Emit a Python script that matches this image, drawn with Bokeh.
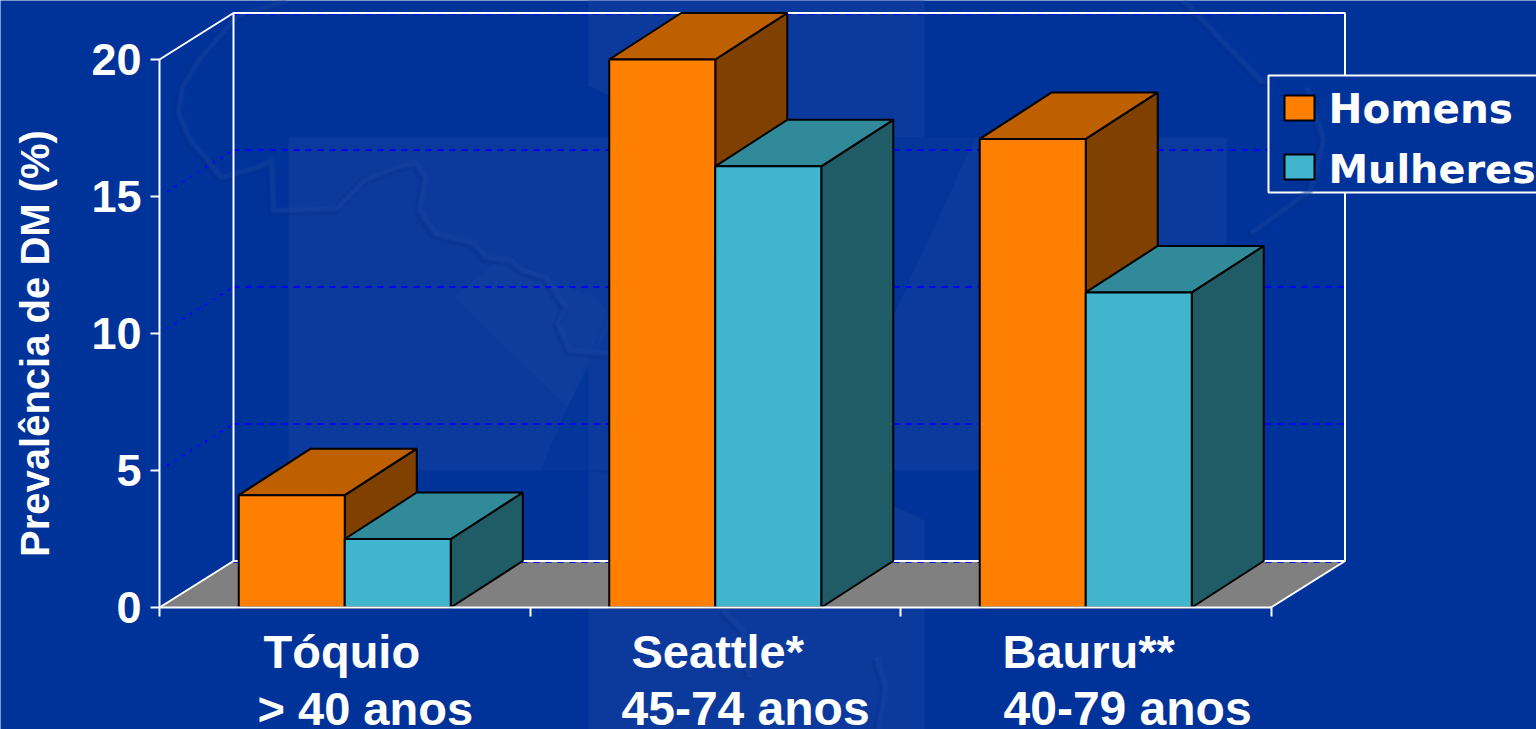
from math import pi

from bokeh.core.properties import value
from bokeh.embed import file_html
from bokeh.models import FixedTicker, LinearAxis, Range1d
from bokeh.plotting import figure
from bokeh.resources import INLINE

# Prevalence of diabetes (%) by city and sex
cities = ["Tóquio", "Seattle*", "Bauru**"]
age_groups = ["> 40 anos", "45-74 anos", "40-79 anos"]
series_names = ["Homens", "Mulheres"]
homens = [4.1, 20.0, 17.1]
mulheres = [2.5, 16.1, 11.5]
y_ticks = [0, 5, 10, 15, 20]
grid_levels = [5, 10, 15]

WIDTH, HEIGHT = 1536, 729
BG = "#003399"
PANEL = "#0C3A9C"
ORANGE, ORANGE_TOP, ORANGE_SIDE = "#FF8000", "#BF6000", "#804000"
CYAN, CYAN_TOP, CYAN_SIDE = "#40B5CD", "#308A99", "#205C66"

# Scale: one category is 370.5 px wide, one percentage point is 27.4 px tall,
# and the plot origin sits at (159, 607) on the page.
PX_X, PX_Y, X0, Y0 = 370.5, 27.4, 159, 607
DEPTH_X, DEPTH_Y = 74 / PX_X, 46.5 / PX_Y
BAR_DX, BAR_DY = 72 / PX_X, 46.5 / PX_Y
BAR_W = 106 / PX_X
N = len(cities)

p = figure(
    width=WIDTH, height=HEIGHT, output_backend="svg", toolbar_location=None,
    x_range=Range1d(-X0 / PX_X, (WIDTH - X0) / PX_X),
    y_range=Range1d((Y0 - HEIGHT) / PX_Y, Y0 / PX_Y),
    x_axis_location=None, y_axis_location=None,
    min_border=0, background_fill_color=BG, border_fill_color=BG,
    outline_line_color=None,
)
p.grid.visible = False
p.extra_x_ranges["page"] = Range1d(0, WIDTH)
p.extra_y_ranges["page"] = Range1d(HEIGHT, 0)
page = dict(x_range_name="page", y_range_name="page")

# Slide backdrop: pale panels and the faint embossed map outline
p.patches(
    xs=[[288, 1226, 1226, 288], [588, 924, 924, 700, 588], [588, 893, 924, 924, 588]],
    ys=[[137, 137, 470, 470], [0, 0, 137, 137, 85], [470, 505, 520, 729, 729]],
    fill_color=PANEL, line_color=None, **page,
)
p.patches(
    xs=[[540, 612, 588, 588], [893, 975, 893]],
    ys=[[470, 300, 370, 470], [137, 137, 315]],
    fill_color=BG, fill_alpha=0.6, line_color=None, **page,
)
p.patches(
    xs=[[453, 500, 600, 612, 567]], ys=[[297, 258, 300, 320, 407]],
    fill_color="#123F9F", fill_alpha=0.5, line_color=None, **page,
)

outline_xs = [
    [287, 237, 198, 182, 178, 190, 205, 221, 257, 271, 273, 336, 364, 395, 415, 425, 419, 435,
     474, 486, 510, 522, 545, 565, 557, 569, 609],
    [1183, 1260, 1307],
    [722, 742, 749],
    [876, 885, 878],
]
outline_ys = [
    [0, 15, 60, 87, 113, 140, 157, 177, 167, 160, 210, 208, 180, 167, 163, 177, 210, 233,
     243, 257, 260, 270, 277, 307, 323, 350, 353],
    [0, 80, 87],
    [610, 630, 677],
    [657, 688, 729],
]
legend_arc_xs = [[1307, 1323, 1310, 1250]]
legend_arc_ys = [[87, 140, 190, 233]]


def draw_outline(xs, ys):
    # Soft two-tone stroke: a dark shadow to the lower left, a pale ridge on top
    shifted_xs = [[x - 2 for x in s] for s in xs]
    shifted_ys = [[y + 2 for y in s] for s in ys]
    for width, alpha in ((9, 0.12), (6, 0.2)):
        p.multi_line(xs=shifted_xs, ys=shifted_ys, line_color="#012B88", line_width=width,
                     line_alpha=alpha, line_join="round", **page)
    for width, alpha in ((7, 0.12), (4, 0.2)):
        p.multi_line(xs=xs, ys=ys, line_color="#2A55AD", line_width=width,
                     line_alpha=alpha, line_join="round", **page)


draw_outline(outline_xs, outline_ys)

# Chart floor
p.patch(x=[0, DEPTH_X, N + DEPTH_X, N], y=[0, DEPTH_Y, DEPTH_Y, 0], fill_color="#808080", line_color=None)

# Gridlines on the back and side walls
p.multi_line(
    xs=[[DEPTH_X, N + DEPTH_X] for _ in grid_levels],
    ys=[[v + DEPTH_Y, v + DEPTH_Y] for v in grid_levels],
    line_color="#0000FF", line_width=2, line_dash="6 6",
)
p.multi_line(
    xs=[[0.02, DEPTH_X] for _ in grid_levels],
    ys=[[v + 0.1 * DEPTH_Y, v + DEPTH_Y] for v in grid_levels],
    line_color="#0000FF", line_width=2, line_dash="3 6",
)
p.multi_line(
    xs=[[DEPTH_X, N + DEPTH_X] for _ in (0, 20)],
    ys=[[v + DEPTH_Y - 0.05, v + DEPTH_Y - 0.05] for v in (0, 20)],
    line_color="#0000FF", line_width=1.5, line_dash="6 6",
)

# White wall edges
top = y_ticks[-1]
p.multi_line(
    xs=[[0, DEPTH_X, N + DEPTH_X, N + DEPTH_X, N], [DEPTH_X, DEPTH_X], [0, DEPTH_X, N + DEPTH_X]],
    ys=[[top, top + DEPTH_Y, top + DEPTH_Y, DEPTH_Y, 0], [DEPTH_Y, top + DEPTH_Y], [0, DEPTH_Y, DEPTH_Y]],
    line_color="white", line_width=2,
)


def draw_series(values, centers, face, roof, side):
    lefts = [c - BAR_W / 2 for c in centers]
    rights = [c + BAR_W / 2 for c in centers]
    p.patches(
        xs=[[r, r + BAR_DX, r + BAR_DX, r] for r in rights],
        ys=[[0, BAR_DY, v + BAR_DY, v] for v in values],
        fill_color=side, line_color="black", line_width=2,
    )
    p.patches(
        xs=[[l, l + BAR_DX, r + BAR_DX, r] for l, r in zip(lefts, rights)],
        ys=[[v, v + BAR_DY, v + BAR_DY, v] for v in values],
        fill_color=roof, line_color="black", line_width=2,
    )
    p.vbar(x=centers, width=BAR_W, top=values, bottom=0, fill_color=face, line_color="black", line_width=2)


def bar_centers(shift):
    return [i + 0.5 + shift for i in range(N)]


draw_series(homens, bar_centers(-BAR_W / 2), ORANGE, ORANGE_TOP, ORANGE_SIDE)
draw_series(mulheres, bar_centers(BAR_W / 2), CYAN, CYAN_TOP, CYAN_SIDE)

# Axes sit inside the frame, on the front edge of the floor
yaxis = LinearAxis(
    ticker=FixedTicker(ticks=y_ticks), bounds=(0, top), fixed_location=0,
    axis_line_color="white", axis_line_width=2,
    major_tick_line_color="white", major_tick_line_width=2,
    major_tick_in=0, major_tick_out=9, minor_tick_line_color=None,
    major_label_text_color="white", major_label_text_font="Liberation Sans",
    major_label_text_font_style="bold", major_label_text_font_size="45px",
    major_label_standoff=9,
)
p.add_layout(yaxis, "left")
xaxis = LinearAxis(
    ticker=FixedTicker(ticks=list(range(N + 1))), bounds=(0, N), fixed_location=0,
    axis_line_color="white", axis_line_width=2,
    major_tick_line_color="white", major_tick_line_width=2,
    major_tick_in=0, major_tick_out=9, minor_tick_line_color=None,
    major_label_overrides={i: "" for i in range(N + 1)},
)
p.add_layout(xaxis, "below")

text_style = dict(text_color="white", text_font=value("Liberation Sans"), text_font_style="bold",
                  text_baseline="alphabetic", text_align="left")
p.text(x=[263, 631, 1002], y=[651] * N, text=cities, text_font_size="47px", **text_style, **page)
p.text(x=[257], y=[708], text=age_groups[:1], text_font_size="47px", **text_style, **page)
p.text(x=[621, 1003], y=[708, 708], text=age_groups[1:], text_font_size="48px", **text_style, **page)
p.text(x=[34], y=[343], text=["Prevalência de DM (%)"], angle=pi / 2, text_font_size="40px",
       text_color="white", text_font=value("Liberation Sans"), text_font_style="bold",
       text_baseline="alphabetic", text_align="center", **page)

# Legend frame hides the wall edge behind it; the map arc still shows through
p.quad(left=[1268], right=[1545], top=[75], bottom=[192], fill_color=BG, line_color="white", line_width=2, **page)
draw_outline(legend_arc_xs, legend_arc_ys)
p.quad(left=[1284, 1284], right=[1314, 1314], top=[95, 154], bottom=[120, 179],
       fill_color=[ORANGE, CYAN], line_color="black", line_width=2, **page)
legend_style = dict(text_color="white", text_font=value("DejaVu Sans"), text_font_style="bold",
                    text_baseline="alphabetic", text_align="left")
p.text(x=[1328], y=[108], text=series_names[:1], text_font_size="40.5px", **legend_style, **page)
p.text(x=[1328], y=[168], text=series_names[1:], text_font_size="39.8px", **legend_style, **page)

open("out.html", "w").write(file_html(p, INLINE))
